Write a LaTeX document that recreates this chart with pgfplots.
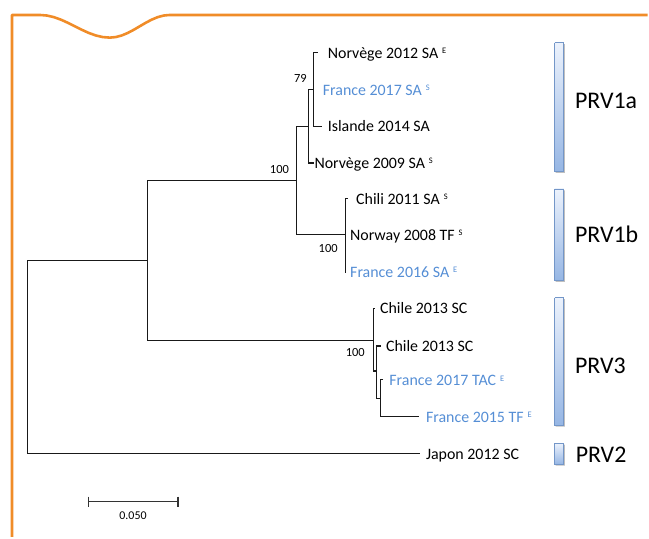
\documentclass[border=0pt]{standalone}
\usepackage{fontspec}
\setmainfont{Carlito}
\usepackage{pgfplots}
\pgfplotsset{compat=1.18}
\definecolor{frameorange}{RGB}{240,140,40}
\definecolor{tipblue}{RGB}{85,142,213}
\definecolor{barborder}{RGB}{115,150,200}
\definecolor{bartop}{RGB}{236,242,252}
\definecolor{barbot}{RGB}{150,182,228}
\definecolor{branch}{RGB}{25,25,25}
\newcommand{\tipsup}[1]{\hspace{4pt}\raisebox{4.8pt}{\fontsize{8.5}{8.5}\selectfont #1}}
\newcommand{\tipfont}{\fontsize{16}{18}\selectfont}
\newcommand{\bsfont}{\fontsize{12.5}{14}\selectfont}
\newcommand{\grpfont}{\fontsize{24}{28}\selectfont}
\begin{document}
\begin{tikzpicture}
\begin{axis}[width=649bp, height=538bp, scale only axis,
  xmin=0, xmax=649, ymin=0, ymax=538, y dir=reverse,
  hide axis, clip=false]
% bounding box
\addplot[draw=none] coordinates {(0,0) (649,538)};
% orange frame
\addplot[frameorange, line width=2.6pt, line join=round] coordinates {
 (12,538) (12,15) (40,15) (47,15.56) (54,17.17) (61,19.68) (68,22.84) (75,26.35)
 (82,29.86) (89,33.02) (96,35.53) (103,37.14) (110,37.7) (116,37.14) (122,35.53)
 (128,33.02) (134,29.86) (140,26.35) (146,22.84) (152,19.68) (158,17.17) (164,15.56)
 (170,15) (649,15)};
% tree branches
\addplot[branch, line width=1.1pt] coordinates {(147.7,260.7) (27.7,260.7) (27.7,454) (420.7,454)};
\addplot[branch, line width=1.1pt] coordinates {(296.7,181) (147.7,181) (147.7,341) (374,341)};
\addplot[branch, line width=1.1pt] coordinates {(309.3,126.7) (296.7,126.7) (296.7,235) (346,235)};
\addplot[branch, line width=1.1pt] coordinates {(314.3,90) (309.3,90) (309.3,163.3) (315,163.3)};
\addplot[branch, line width=1.1pt] coordinates {(318.3,52.7) (314.3,52.7) (314.3,126.7) (322.7,126.7)};
\addplot[branch, line width=1.1pt] coordinates {(348.5,199.3) (346,199.3) (346,272.5) (347,272.5)};
\addplot[branch, line width=1.1pt] coordinates {(375.7,309.3) (374,309.3) (374,371.7) (377.7,371.7)};
\addplot[branch, line width=1.1pt] coordinates {(381.7,346.7) (377.7,346.7) (377.7,399.3) (381,399.3)};
\addplot[branch, line width=1.1pt] coordinates {(384,380) (381,380) (381,417.3) (420,417.3)};
% scale bar
\addplot[black!80, line width=1.2pt] coordinates {(88.3,502.7) (178.3,502.7)};
\addplot[black!80, line width=1.2pt] coordinates {(88.3,497.7) (88.3,507.7)};
\addplot[black!80, line width=1.2pt] coordinates {(178.3,497.7) (178.3,507.7)};
\node[anchor=center, inner sep=0] at (axis cs:133.3,516.7) {\fontsize{12}{14}\selectfont 0.050};
% tip labels
\node[anchor=base west, inner sep=0] at (axis cs:328.3,58.5) {\tipfont Norvège 2012 SA\tipsup{E}};
\node[anchor=base west, inner sep=0, text=tipblue] at (axis cs:323.3,95.3) {\tipfont France 2017 SA\tipsup{S}};
\node[anchor=base west, inner sep=0] at (axis cs:328.3,132) {\tipfont Islande 2014 SA};
\node[anchor=base west, inner sep=0] at (axis cs:315,168.6) {\tipfont Norvège 2009 SA\tipsup{S}};
\node[anchor=base west, inner sep=0] at (axis cs:356.7,205) {\tipfont Chili 2011 SA\tipsup{S}};
\node[anchor=base west, inner sep=0] at (axis cs:350.7,240.7) {\tipfont Norway 2008 TF\tipsup{S}};
\node[anchor=base west, inner sep=0, text=tipblue] at (axis cs:350.7,277.7) {\tipfont France 2016 SA\tipsup{E}};
\node[anchor=base west, inner sep=0] at (axis cs:380.7,314.3) {\tipfont Chile 2013 SC};
\node[anchor=base west, inner sep=0] at (axis cs:386.7,351.7) {\tipfont Chile 2013 SC};
\node[anchor=base west, inner sep=0, text=tipblue] at (axis cs:390,386.7) {\tipfont France 2017 TAC\tipsup{E}};
\node[anchor=base west, inner sep=0, text=tipblue] at (axis cs:426.7,423.3) {\tipfont France 2015 TF\tipsup{E}};
\node[anchor=base west, inner sep=0] at (axis cs:426.7,460) {\tipfont Japon 2012 SC};
% bootstrap values
\node[anchor=center, inner sep=0] at (axis cs:280,170) {\bsfont 100};
\node[anchor=center, inner sep=0] at (axis cs:301,79) {\bsfont 79};
\node[anchor=center, inner sep=0] at (axis cs:328.8,249) {\bsfont 100};
\node[anchor=center, inner sep=0] at (axis cs:356,353.3) {\bsfont 100};
% clade bars (shadow then bar)
\addplot[draw=none, fill=black!25] coordinates {(556.7,44.2) (566,44.2) (566,173.2) (556.7,173.2) (556.7,44.2)};
\addplot[draw=barborder, line width=0.8pt, top color=bartop, bottom color=barbot] coordinates {(555.7,42.7) (565,42.7) (565,171.7) (555.7,171.7) (555.7,42.7)};
\addplot[draw=none, fill=black!25] coordinates {(556.7,190.8) (566,190.8) (566,282.5) (556.7,282.5) (556.7,190.8)};
\addplot[draw=barborder, line width=0.8pt, top color=bartop, bottom color=barbot] coordinates {(555.7,189.3) (565,189.3) (565,281) (555.7,281) (555.7,189.3)};
\addplot[draw=none, fill=black!25] coordinates {(556.7,299.8) (566,299.8) (566,427.5) (556.7,427.5) (556.7,299.8)};
\addplot[draw=barborder, line width=0.8pt, top color=bartop, bottom color=barbot] coordinates {(555.7,298.3) (565,298.3) (565,426) (555.7,426) (555.7,298.3)};
\addplot[draw=none, fill=black!25] coordinates {(556.7,445.5) (566,445.5) (566,466.5) (556.7,466.5) (556.7,445.5)};
\addplot[draw=barborder, line width=0.8pt, top color=bartop, bottom color=barbot] coordinates {(555.7,444) (565,444) (565,465) (555.7,465) (555.7,444)};
% clade names
\node[anchor=base west, inner sep=0] at (axis cs:576,109.2) {\grpfont PRV1a};
\node[anchor=base west, inner sep=0] at (axis cs:576,242.5) {\grpfont PRV1b};
\node[anchor=base west, inner sep=0] at (axis cs:576,374.2) {\grpfont PRV3};
\node[anchor=base west, inner sep=0] at (axis cs:576.7,463.2) {\grpfont PRV2};
\end{axis}
\end{tikzpicture}
\end{document}
